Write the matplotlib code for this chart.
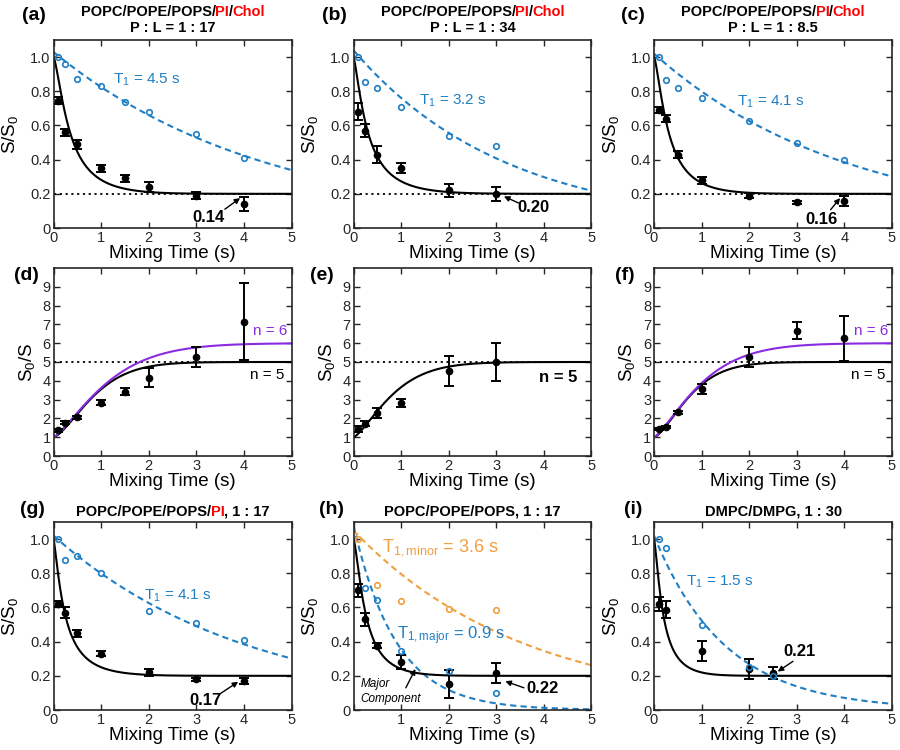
import numpy as np
import matplotlib
matplotlib.use('Agg')
import matplotlib.pyplot as plt

plt.rcParams['font.family'] = ['Liberation Sans', 'DejaVu Sans']
plt.rcParams['mathtext.fontset'] = 'custom'
plt.rcParams['mathtext.rm'] = 'Liberation Sans'
plt.rcParams['mathtext.it'] = 'Liberation Sans:italic'
plt.rcParams['mathtext.bf'] = 'Liberation Sans:bold'
plt.rcParams['mathtext.default'] = 'regular'

BLUE = '#1f7fc4'
ORANGE = '#f0a040'
PURPLE = '#8a2be2'
RED = '#ff0000'
GREY = '#262626'

# ---- data ----
# (a) / (d)  POPC/POPE/POPS/PI/Chol, P:L = 1:17
t_a = [0.1, 0.25, 0.5, 1, 1.5, 2, 3, 4]
ref_a = [1.0, 0.96, 0.87, 0.83, 0.74, 0.68, 0.55, 0.41]
sig_a = [0.746, 0.56, 0.49, 0.35, 0.29, 0.24, 0.19, 0.14]
err_a = [0.02, 0.02, 0.025, 0.02, 0.02, 0.03, 0.02, 0.04]
inv_d = [1.37, 1.78, 2.06, 2.84, 3.43, 4.17, 5.26, 7.14]
ierr_d = [0.07, 0.07, 0.07, 0.12, 0.17, 0.5, 0.54, 2.04]

# (b) / (e)  P:L = 1:34
t_b = [0.1, 0.25, 0.5, 1, 2, 3]
ref_b = [1.0, 0.855, 0.82, 0.71, 0.54, 0.48]
sig_b = [0.68, 0.57, 0.43, 0.35, 0.22, 0.20]
err_b = [0.05, 0.04, 0.05, 0.03, 0.04, 0.04]
inv_e = [1.45, 1.72, 2.3, 2.82, 4.5, 5.0]
ierr_e = [0.15, 0.12, 0.27, 0.22, 0.8, 1.0]

# (c) / (f)  P:L = 1:8.5
t_c = [0.1, 0.25, 0.5, 1, 2, 3, 4]
ref_c = [1.0, 0.865, 0.82, 0.76, 0.625, 0.50, 0.40]
sig_c = [0.69, 0.64, 0.43, 0.28, 0.19, 0.15, 0.16]
err_c = [0.02, 0.02, 0.02, 0.02, 0.015, 0.01, 0.03]
inv_f = [1.45, 1.56, 2.32, 3.56, 5.27, 6.67, 6.25]
ierr_f = [0.05, 0.06, 0.1, 0.27, 0.55, 0.45, 1.18]

# (g) POPC/POPE/POPS/PI
t_g = [0.1, 0.25, 0.5, 1, 2, 3, 4]
ref_g = [1.0, 0.88, 0.90, 0.80, 0.58, 0.507, 0.41]
sig_g = [0.62, 0.57, 0.45, 0.33, 0.22, 0.18, 0.17]
err_g = [0.02, 0.03, 0.02, 0.015, 0.02, 0.01, 0.02]

# (h) POPC/POPE/POPS
t_h = [0.1, 0.25, 0.5, 1, 2, 3]
sig_h = [0.70, 0.53, 0.376, 0.28, 0.153, 0.217]
err_h = [0.04, 0.04, 0.015, 0.04, 0.08, 0.06]
t_minor = [0.1, 0.5, 1, 2, 3]
ref_minor = [1.0, 0.734, 0.64, 0.59, 0.587]
t_major = [0.25, 0.5, 1, 2, 3]
ref_major = [0.714, 0.646, 0.344, 0.227, 0.10]

# (i) DMPC/DMPG
t_i = [0.1, 0.25, 1, 2, 2.5]
ref_i = [1.0, 0.95, 0.50, 0.254, 0.198]
sig_i = [0.62, 0.587, 0.344, 0.24, 0.215]
err_i = [0.04, 0.05, 0.06, 0.06, 0.035]

# fit parameters (n, tau, stretch) for the cluster-size curves
fit_a = (5, 0.99, 1.45)
fit_b = (5, 0.936, 1.35)
fit_c = (5, 0.88, 1.45)
fit_d6 = (6, 1.257, 1.3)
fit_f6 = (6, 1.125, 1.3)
fit_g = (5, 0.78, 1.3)
fit_h = (5, 0.736, 1.45)
fit_i = (5, 0.572, 1.4)

# T1 curves (amplitude, T1)
t1_a = (1.03, 4.5)
t1_b = (1.04, 3.2)
t1_c = (1.02, 4.1)
t1_g = (1.02, 4.1)
t1_minor = (1.05, 3.6)
t1_major = (1.08, 0.9)
t1_i = (1.02, 1.5)

tt = np.linspace(0, 5, 400)


def growth(p):
    n, tau, k = p
    return 1 + (n - 1) * (1 - np.exp(-(tt / tau) ** k))


def t1curve(p):
    amp, T1 = p
    return amp * np.exp(-tt / T1)


W, H = 900, 750
fig = plt.figure(figsize=(9, 7.5), dpi=100)
lefts = [53.5, 353.5, 654]
tops = [40, 268, 522]


def make_ax(col, row):
    ax = fig.add_axes([lefts[col] / W, 1 - (tops[row] + 188) / H, 238 / W, 188 / H])
    ax.set_xlim(0, 5)
    ax.set_xticks([0, 1, 2, 3, 4, 5])
    ax.tick_params(direction='in', top=True, right=True, length=4, width=1,
                   colors=GREY, labelsize=10.5, pad=2)
    for s in ax.spines.values():
        s.set_linewidth(1.2)
        s.set_color(GREY)
    ax.set_xlabel('Mixing Time (s)', fontsize=13.5, labelpad=0)
    if row == 1:
        ax.set_ylim(0, 10)
        ax.set_yticks(range(10))
        ax.set_ylabel('S$_0$/S', fontsize=13.5)
        ax.yaxis.set_label_coords(-0.07, 0.5)
    else:
        ax.set_ylim(0, 1.1)
        ax.set_yticks([0, 0.2, 0.4, 0.6, 0.8, 1.0])
        ax.set_yticklabels(['0', '0.2', '0.4', '0.6', '0.8', '1.0'])
        ax.set_ylabel('S/S$_0$', fontsize=13.5)
        ax.yaxis.set_label_coords(-0.14, 0.5)
    return ax


def points(ax, t, y, e):
    ax.errorbar(t, y, yerr=e, fmt='o', color='k', ms=4.5, capsize=3.5,
                elinewidth=1.4, capthick=1.4, zorder=4)


def open_pts(ax, t, y, c):
    ax.plot(t, y, 'o', mfc='none', mec=c, ms=4, mew=1.2, zorder=5)


def rich_text(xc, y, parts, size=10.5, weight='bold'):
    r = fig.canvas.get_renderer()
    items = []
    for s, c in parts:
        txt = fig.text(0, 1 - y / H, s, color=c, fontsize=size, fontweight=weight,
                       ha='left', va='center')
        items.append((txt, txt.get_window_extent(r).width - 0.5))
    x = xc - sum(w for _, w in items) / 2
    for txt, w in items:
        txt.set_x(x / W)
        x += w


def arrow(ax, start, end):
    ax.annotate('', xy=end, xytext=start,
                arrowprops=dict(arrowstyle='-|>', color='k', lw=1, mutation_scale=8,
                                shrinkA=0, shrinkB=0))


def letter(x, y, s):
    fig.text(x / W, 1 - y / H, s, fontsize=14, fontweight='bold', ha='left', va='center')


dash = (0, (3, 2))
dots = (0, (1.2, 2))

# ---- row 1 ----
row1 = [
    (t_a, ref_a, sig_a, err_a, fit_a, t1_a, 'T$_1$ = 4.5 s', (1.25, 0.865),
     '1 : 17', '0.14', (3.26, 0.06), (3.6, 0.11), (3.92, 0.175)),
    (t_b, ref_b, sig_b, err_b, fit_b, t1_b, 'T$_1$ = 3.2 s', (1.37, 0.742),
     '1 : 34', '0.20', (3.77, 0.12), (3.47, 0.146), (3.16, 0.185)),
    (t_c, ref_c, sig_c, err_c, fit_c, t1_c, 'T$_1$ = 4.1 s', (1.74, 0.74),
     '1 : 8.5', '0.16', (3.52, 0.05), (3.71, 0.107), (3.91, 0.175)),
]
for col, (t, ref, sig, err, fp, tp, tlab, tpos, pl, val, vpos, a0, a1) in enumerate(row1):
    ax = make_ax(col, 0)
    ax.plot([0, 5], [0.2, 0.2], color='k', ls=dots, lw=1.3)
    ax.plot(tt, t1curve(tp), color=BLUE, ls=dash, lw=1.5)
    ax.plot(tt, 1 / growth(fp), color='k', lw=1.5)
    points(ax, t, sig, err)
    open_pts(ax, t, ref, BLUE)
    ax.text(tpos[0], tpos[1], tlab, color=BLUE, fontsize=11, va='center')
    ax.text(vpos[0], vpos[1], val, fontsize=12, fontweight='bold', ha='center', va='center')
    arrow(ax, a0, a1)
    xc = lefts[col] + 119
    rich_text(xc, 12, [('POPC/POPE/POPS/', 'k'), ('PI', RED), ('/', 'k'), ('Chol', RED)])
    rich_text(xc, 28, [('P : L = ' + pl, 'k')])

# ---- row 2 ----
row2 = [
    (t_a, inv_d, ierr_d, fit_a, fit_d6),
    (t_b, inv_e, ierr_e, fit_b, None),
    (t_c, inv_f, ierr_f, fit_c, fit_f6),
]
for col, (t, inv, ierr, f5, f6) in enumerate(row2):
    ax = make_ax(col, 1)
    ax.plot([0, 5], [5, 5], color='k', ls=dots, lw=1.3)
    ax.plot(tt, growth(f5), color='k', lw=1.5)
    if f6 is not None:
        ax.plot(tt, growth(f6), color=PURPLE, lw=1.5)
        ax.text(4.92, 6.65, 'n = 6', color=PURPLE, fontsize=11, ha='right', va='center')
        ax.text(4.86, 4.3, 'n = 5', color='k', fontsize=11, ha='right', va='center')
    else:
        ax.text(4.7, 4.2, 'n = 5', color='k', fontsize=12, fontweight='bold',
                ha='right', va='center')
    points(ax, t, inv, ierr)

# ---- row 3 ----
ax = make_ax(0, 2)
ax.plot(tt, t1curve(t1_g), color=BLUE, ls=dash, lw=1.5)
ax.plot(tt, 1 / growth(fit_g), color='k', lw=1.5)
points(ax, t_g, sig_g, err_g)
open_pts(ax, t_g, ref_g, BLUE)
ax.text(1.9, 0.67, 'T$_1$ = 4.1 s', color=BLUE, fontsize=11, va='center')
ax.text(3.19, 0.055, '0.17', fontsize=12, fontweight='bold', ha='center', va='center')
arrow(ax, (3.5, 0.095), (3.88, 0.165))
rich_text(lefts[0] + 119, 512, [('POPC/POPE/POPS/', 'k'), ('PI', RED), (', 1 : 17', 'k')])

ax = make_ax(1, 2)
ax.set_xticklabels(['', '1', '2', '3', '4', '5'])
ax.plot(tt, t1curve(t1_minor), color=ORANGE, ls=dash, lw=1.5)
ax.plot(tt, t1curve(t1_major), color=BLUE, ls=dash, lw=1.5)
ax.plot(tt, 1 / growth(fit_h), color='k', lw=1.5)
points(ax, t_h, sig_h, err_h)
open_pts(ax, t_minor, ref_minor, ORANGE)
open_pts(ax, t_major, ref_major, BLUE)
ax.text(0.6, 0.95, 'T$_{1,minor}$ = 3.6 s', color=ORANGE, fontsize=13, va='center')
ax.text(0.91, 0.436, 'T$_{1,major}$ = 0.9 s', color=BLUE, fontsize=12, va='center')
ax.text(0.14, 0.11, 'Major\nComponent', fontsize=8.5, style='italic', ha='left',
        va='center', linespacing=1.3)
arrow(ax, (1.1, 0.13), (1.3, 0.24))
ax.text(3.98, 0.123, '0.22', fontsize=12, fontweight='bold', ha='center', va='center')
arrow(ax, (3.58, 0.13), (3.19, 0.168))
rich_text(lefts[1] + 119, 512, [('POPC/POPE/POPS, 1 : 17', 'k')])

ax = make_ax(2, 2)
ax.plot(tt, t1curve(t1_i), color=BLUE, ls=dash, lw=1.5)
ax.plot(tt, 1 / growth(fit_i), color='k', lw=1.5)
points(ax, t_i, sig_i, err_i)
open_pts(ax, t_i, ref_i, BLUE)
ax.text(0.67, 0.75, 'T$_1$ = 1.5 s', color=BLUE, fontsize=11, va='center')
ax.text(3.05, 0.34, '0.21', fontsize=12, fontweight='bold', ha='center', va='center')
arrow(ax, (2.92, 0.285), (2.6, 0.225))
rich_text(lefts[2] + 119, 512, [('DMPC/DMPG, 1 : 30', 'k')])

for x, y, s in [(22, 15, '(a)'), (322, 15, '(b)'), (621, 15, '(c)'),
                (14, 275, '(d)'), (310, 275, '(e)'), (615, 275, '(f)'),
                (20, 510, '(g)'), (319, 510, '(h)'), (624, 510, '(i)')]:
    letter(x, y, s)

fig.savefig('out.png', dpi=100)
